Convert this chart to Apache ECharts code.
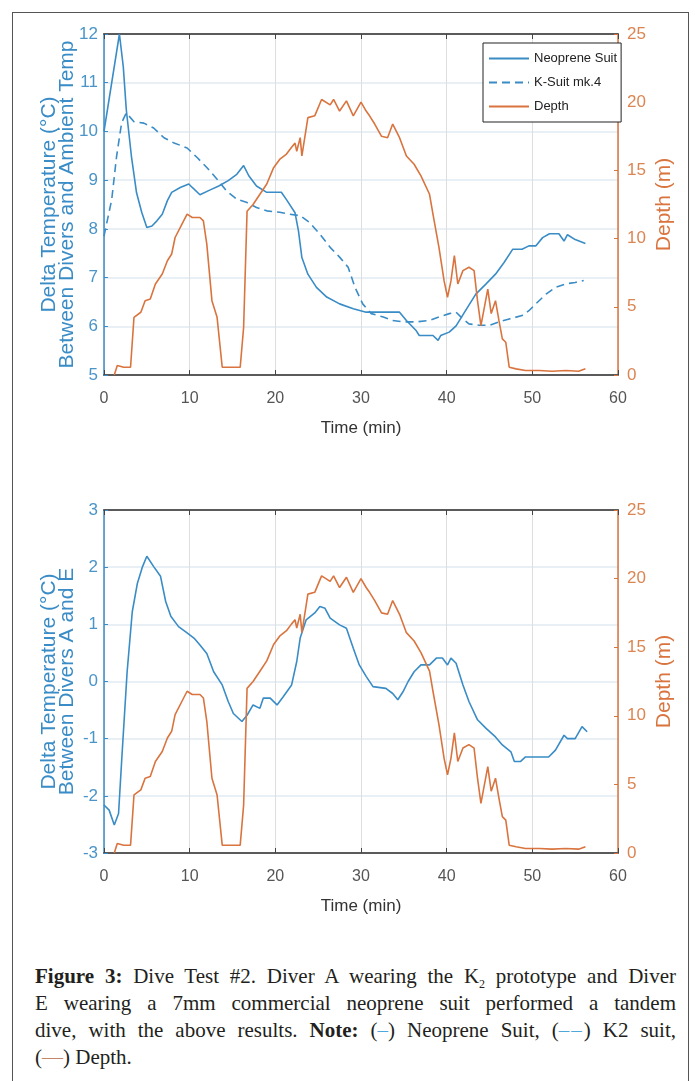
<!DOCTYPE html>
<html>
<head>
<meta charset="utf-8">
<title>Dive Test #2</title>
<script src="https://cdn.jsdelivr.net/npm/echarts@6/dist/echarts.min.js"></script>
<style>
    html, body { margin: 0; padding: 0; background: #fff; }
    body { width: 695px; height: 1081px; overflow: hidden; position: relative; }
    .frame {
        position: absolute; left: 12px; top: 12px; width: 677px; height: 1100px;
        border: 1px solid #555; box-sizing: border-box;
    }
    #chart { position: absolute; left: 0; top: 0; width: 695px; height: 940px; }
    .caption {
        position: absolute; left: 35px; top: 963px; width: 641px;
        font-family: 'Liberation Serif', 'DejaVu Serif', serif;
        font-size: 21px; line-height: 27px; color: #231f20;
    }
    .caption .j { text-align: justify; text-align-last: justify; }
    .caption sub { font-size: 12px; line-height: 0; }
    .blue { color: #4fa8dc; }
    .dd { color: #4fa8dc; letter-spacing: 2px; }
    .orange { color: #c4866a; }
</style>
</head>
<body>
<div class="frame"></div>
<div id="chart"></div>
<div class="caption">
    <div class="j"><b>Figure 3:</b> Dive Test #2. Diver A wearing the K<sub>2</sub> prototype and Diver</div>
    <div class="j">E wearing a 7mm commercial neoprene suit performed a tandem</div>
    <div class="j">dive, with the above results. <b>Note:</b> (<span class="blue">–</span>) Neoprene Suit, (<span class="dd">––</span>) K2 suit,</div>
    <div>(<span class="orange">—</span>) Depth.</div>
</div>
<script>
// time (min) and values
var neoTime = [0, 1.8, 2.25, 2.6, 3.2, 3.8, 4.4, 5.0, 5.6, 6.2,
    6.8, 7.4, 7.9, 8.9, 9.9, 10.3, 11.2, 12.4, 13.4, 14.5,
    15.5, 16.3, 16.9, 17.8, 19.0, 20.7, 21.3, 22.3, 22.7, 23.1,
    23.8, 24.8, 26.0, 27.5, 29.1, 30.6, 32.6, 34.5, 35.3, 36.4,
    36.8, 38.4, 39.0, 39.3, 40.3, 41.1, 42.2, 43.4, 44.6, 45.7,
    46.7, 47.7, 48.8, 49.6, 50.4, 51.2, 52.0, 53.1, 53.7, 54.1,
    55.0, 56.2];
var neoTemp = [10.0, 12.0, 11.33, 10.45, 9.49, 8.74, 8.34, 8.03, 8.06, 8.17,
    8.3, 8.58, 8.75, 8.85, 8.92, 8.85, 8.7, 8.8, 8.88, 8.99,
    9.12, 9.3, 9.09, 8.88, 8.75, 8.75, 8.6, 8.33, 7.96, 7.41,
    7.07, 6.8, 6.6, 6.46, 6.36, 6.29, 6.29, 6.29, 6.12, 5.92,
    5.81, 5.81, 5.71, 5.81, 5.88, 6.01, 6.32, 6.66, 6.87, 7.07,
    7.31, 7.58, 7.58, 7.65, 7.65, 7.82, 7.9, 7.9, 7.75, 7.88,
    7.78, 7.7];

var kTime = [0, 0.9, 1.47, 2.06, 2.6, 3.5, 4.65, 5.8, 7.0, 8.1,
    9.7, 10.9, 12.0, 13.2, 14.3, 15.5, 16.7, 17.8, 19.0, 20.5,
    21.7, 22.9, 24.0, 25.2, 26.4, 27.5, 28.5, 29.3, 30.2, 31.2,
    32.6, 33.7, 34.9, 36.4, 38.0, 39.1, 40.3, 41.1, 41.9, 42.6,
    43.8, 45.0, 46.1, 47.3, 48.8, 49.6, 50.4, 51.6, 52.7, 53.9,
    55.0, 56.0];
var kTemp = [7.85, 8.6, 9.49, 10.18, 10.38, 10.2, 10.17, 10.07, 9.87, 9.77,
    9.66, 9.46, 9.26, 9.02, 8.78, 8.61, 8.54, 8.44, 8.37, 8.34,
    8.3, 8.27, 8.13, 7.89, 7.62, 7.42, 7.21, 6.8, 6.46, 6.26,
    6.19, 6.12, 6.09, 6.09, 6.12, 6.19, 6.26, 6.29, 6.15, 6.05,
    6.02, 6.02, 6.09, 6.15, 6.22, 6.32, 6.46, 6.66, 6.8, 6.87,
    6.9, 6.94];

var depthTime = [1.2, 1.55, 2.3, 3.1, 3.5, 4.3, 4.8, 5.4, 6.0, 6.8,
    7.4, 7.9, 8.3, 9.1, 9.7, 10.3, 11.2, 11.6, 12.0, 12.6,
    13.2, 13.8, 15.1, 15.9, 16.3, 16.7, 17.4, 18.2, 19.0, 19.8,
    20.5, 21.3, 21.9, 22.3, 22.5, 22.9, 23.1, 23.8, 24.6, 25.4,
    26.4, 26.8, 27.5, 28.3, 29.1, 30.0, 30.6, 31.0, 31.6, 32.4,
    33.1, 33.7, 34.5, 35.3, 36.2, 37.0, 38.0, 38.4, 39.1, 39.7,
    40.1, 40.5, 40.9, 41.3, 41.9, 42.6, 43.2, 43.6, 44.0, 44.8,
    45.2, 45.7, 46.1, 46.5, 46.9, 47.3, 48.1, 49.2, 50.8, 52.3,
    53.9, 55.4, 56.2];
var depth = [0, 0.7, 0.57, 0.57, 4.23, 4.6, 5.45, 5.57, 6.67, 7.4,
    8.38, 8.87, 10.08, 11.06, 11.79, 11.55, 11.55, 11.3, 9.6, 5.45,
    4.23, 0.57, 0.57, 0.57, 3.5, 12.0, 12.5, 13.25, 14.0, 15.2,
    15.8, 16.2, 16.7, 17.0, 16.4, 17.4, 16.06, 18.87, 19.0, 20.2,
    19.8, 20.2, 19.35, 20.1, 19.0, 20.0, 19.35, 19.0, 18.4, 17.5,
    17.4, 18.4, 17.4, 16.06, 15.45, 14.6, 13.25, 11.79, 9.35, 6.9,
    5.7, 6.9, 8.75, 6.67, 7.65, 7.9, 7.65, 5.45, 3.62, 6.3,
    4.5, 5.45, 4.0, 2.65, 2.4, 0.57, 0.45, 0.33, 0.33, 0.28,
    0.33, 0.28, 0.45];

var diffTime = [0, 0.6, 1.2, 1.7, 2.1, 2.7, 3.3, 3.9, 4.5, 5.0,
    5.8, 6.6, 7.2, 7.8, 8.7, 9.7, 10.5, 11.2, 12.0, 12.8,
    13.8, 14.5, 15.1, 16.1, 16.7, 17.4, 18.2, 18.6, 19.4, 20.2,
    20.9, 21.9, 22.5, 22.9, 23.6, 24.6, 25.2, 25.8, 26.4, 27.5,
    28.3, 29.1, 29.8, 30.6, 31.4, 32.9, 33.7, 34.3, 34.9, 35.5,
    36.2, 37.0, 38.0, 38.8, 39.5, 40.1, 40.5, 41.1, 41.9, 42.6,
    43.6, 44.6, 45.7, 46.5, 47.5, 47.9, 48.6, 49.2, 50.8, 51.9,
    52.7, 53.7, 54.1, 55.0, 55.8, 56.4];
var diffTemp = [-2.16, -2.25, -2.51, -2.31, -1.29, 0.17, 1.22, 1.72, 2.01, 2.19,
    2.01, 1.84, 1.4, 1.14, 0.96, 0.85, 0.76, 0.64, 0.49, 0.17,
    -0.06, -0.35, -0.56, -0.7, -0.59, -0.41, -0.47, -0.29, -0.29, -0.41,
    -0.27, -0.06, 0.35, 0.76, 1.08, 1.2, 1.31, 1.28, 1.11, 0.99,
    0.93, 0.58, 0.29, 0.09, -0.09, -0.12, -0.21, -0.32, -0.18, 0.0,
    0.17, 0.29, 0.29, 0.41, 0.41, 0.29, 0.41, 0.32, -0.06, -0.35,
    -0.67, -0.82, -0.97, -1.11, -1.23, -1.4, -1.4, -1.32, -1.32, -1.32,
    -1.2, -0.94, -1.0, -1.0, -0.79, -0.88];

var BLUE = '#3a8cc6';
var ORANGE = '#d9743f';
var SANS = "'Liberation Sans', Arial, sans-serif";

function pairs(ts, vs) {
    return ts.map(function (t, i) { return [t, vs[i]]; });
}

function timeAxis(grid) {
    return {
        type: 'value', gridIndex: grid, min: 0, max: 60, interval: 10,
        name: 'Time (min)', nameLocation: 'middle', nameGap: 45, nameMoveOverlap: false,
        nameTextStyle: { color: '#333', fontFamily: SANS, fontSize: 17 },
        axisLine: { onZero: false, lineStyle: { color: '#5a5a5a', width: 2 } },
        axisTick: { inside: true, length: 5, lineStyle: { color: '#444' } },
        axisLabel: { color: '#555', fontFamily: SANS, fontSize: 16, margin: 16 },
        splitLine: { show: true, lineStyle: { color: '#dedede', width: 1 } }
    };
}

function topAxis(grid) {
    return {
        type: 'value', gridIndex: grid, position: 'top', min: 0, max: 60, interval: 10,
        axisLine: { onZero: false, lineStyle: { color: '#5a5a5a', width: 2 } },
        axisTick: { inside: true, length: 5, lineStyle: { color: '#444' } },
        axisLabel: { show: false },
        splitLine: { show: false }
    };
}

function tempAxis(grid, min, max, name) {
    return {
        type: 'value', gridIndex: grid, position: 'left', min: min, max: max, interval: 1,
        name: name, nameLocation: 'middle', nameGap: 28, nameRotate: 90, nameMoveOverlap: false,
        nameTextStyle: { color: BLUE, fontFamily: SANS, fontSize: 21, lineHeight: 18 },
        axisLine: { show: true, onZero: false, lineStyle: { color: BLUE, width: 1.5 } },
        axisTick: { show: true, inside: true, length: 4, lineStyle: { color: BLUE } },
        axisLabel: { color: '#4a94c8', fontFamily: SANS, fontSize: 17, margin: 6 },
        splitLine: { show: true, lineStyle: { color: '#e2ebf2', width: 1.5 } }
    };
}

function depthAxis(grid) {
    return {
        type: 'value', gridIndex: grid, position: 'right', min: 0, max: 25, interval: 5,
        name: 'Depth (m)', nameLocation: 'middle', nameGap: 36, nameRotate: 90, nameMoveOverlap: false,
        nameTextStyle: { color: ORANGE, fontFamily: SANS, fontSize: 21 },
        axisLine: { show: true, onZero: false, lineStyle: { color: ORANGE, width: 1.5 } },
        axisTick: { show: true, inside: true, length: 4, lineStyle: { color: ORANGE } },
        axisLabel: { color: '#db8552', fontFamily: SANS, fontSize: 17, margin: 9 },
        splitLine: { show: false }
    };
}

function line(name, xi, yi, data, color, type) {
    return {
        name: name, type: 'line', xAxisIndex: xi, yAxisIndex: yi,
        data: data, symbol: 'none', animation: false,
        lineStyle: { color: color, width: 1.6, type: type || 'solid' },
        itemStyle: { color: color }
    };
}

var chart = echarts.init(document.getElementById('chart'));
var option = {
    backgroundColor: 'transparent',
    animation: false,
    grid: [
        { left: 104, top: 34, width: 514, height: 341 },
        { left: 104, top: 510, width: 514, height: 343 }
    ],
    legend: {
        data: ['Neoprene Suit', 'K-Suit mk.4', 'Depth'],
        orient: 'vertical', left: 483, top: 43,
        itemWidth: 40, itemHeight: 14, itemGap: 11,
        padding: [9, 4, 9, 5],
        borderColor: '#222', borderWidth: 1, backgroundColor: '#fff',
        itemStyle: { opacity: 0 },
        textStyle: { color: '#222', fontFamily: SANS, fontSize: 13 }
    },
    xAxis: [timeAxis(0), topAxis(0), timeAxis(1), topAxis(1)],
    yAxis: [
        tempAxis(0, 5, 12, 'Delta Temperature (°C)\nBetween Divers and Ambient Temp'),
        depthAxis(0),
        tempAxis(1, -3, 3, 'Delta Temperature (°C)\nBetween Divers A and E'),
        depthAxis(1)
    ],
    series: [
        line('Neoprene Suit', 0, 0, pairs(neoTime, neoTemp), BLUE),
        line('K-Suit mk.4', 0, 0, pairs(kTime, kTemp), BLUE, [8, 5]),
        line('Depth', 0, 1, pairs(depthTime, depth), ORANGE),
        line('Diver A vs E', 2, 2, pairs(diffTime, diffTemp), BLUE),
        line('Depth (lower)', 2, 3, pairs(depthTime, depth), ORANGE)
    ]
};
chart.setOption(option);
</script>
</body>
</html>
